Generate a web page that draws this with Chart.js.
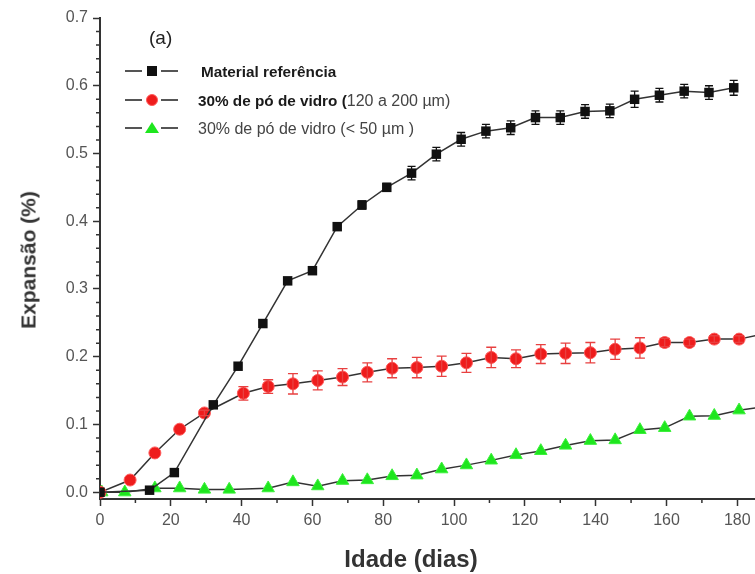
<!DOCTYPE html>
<html lang="pt">
<head>
    <meta charset="UTF-8">
    <title>Expansão (%) x Idade (dias)</title>
    <script src="https://cdn.jsdelivr.net/npm/chart.js"></script>
    <style>
        * {
            margin: 0;
            padding: 0;
            box-sizing: border-box;
        }

        body {
            background: #fff;
            font-family: 'Liberation Sans', Arial, sans-serif;
        }

        .wrap {
            position: relative;
            width: 755px;
            height: 574px;
            overflow: hidden;
        }

        .wrap canvas {
            position: absolute;
            left: 0;
            top: 0;
        }

        .txt {
            position: absolute;
            white-space: nowrap;
            line-height: 1;
        }

        .panel {
            left: 149px;
            top: 28px;
            font-size: 19px;
            color: #222;
        }

        .leg-row {
            position: absolute;
            left: 125px;
            height: 20px;
            width: 340px;
        }

        .leg-line {
            position: absolute;
            top: 9px;
            width: 17px;
            height: 2px;
            background: #555;
        }

        .leg-mark {
            position: absolute;
        }

        .leg-label {
            position: absolute;
            left: 73px;
            top: 2px;
            font-size: 16px;
            color: #444;
            white-space: nowrap;
        }

        .leg-label b {
            color: #1a1a1a;
            font-size: 15.3px;
        }

        .sq {
            left: 22px;
            top: 5px;
            width: 10px;
            height: 10px;
            background: #111;
        }

        .ci {
            left: 21px;
            top: 4px;
            width: 12px;
            height: 12px;
            border-radius: 50%;
            background: #ee1c1c;
            border: 1px solid #ff5a5a;
        }

        .tr {
            left: 20px;
            top: 4px;
            width: 0;
            height: 0;
            border-left: 7px solid transparent;
            border-right: 7px solid transparent;
            border-bottom: 11px solid #1ee61e;
        }

        .xtitle {
            left: 411px;
            top: 559px;
            transform: translate(-50%, -50%);
            font-size: 24px;
            font-weight: bold;
            color: #333;
        }

        .ytitle {
            left: 28px;
            top: 260px;
            transform: translate(-50%, -50%) rotate(-90deg);
            font-size: 21px;
            font-weight: bold;
            color: #333;
        }
    </style>
</head>
<body>
    <div class="wrap">
        <canvas id="expansao" width="755" height="574"></canvas>

        <div class="txt panel">(a)</div>

        <div class="leg-row" style="top: 61px;">
            <div class="leg-line" style="left: 0;"></div>
            <div class="leg-mark sq"></div>
            <div class="leg-line" style="left: 36px;"></div>
            <div class="leg-label" style="left: 76px;"><b>Material referência</b></div>
        </div>
        <div class="leg-row" style="top: 90px;">
            <div class="leg-line" style="left: 0;"></div>
            <div class="leg-mark ci"></div>
            <div class="leg-line" style="left: 36px;"></div>
            <div class="leg-label"><b>30% de pó de vidro (</b>120 a 200 µm)</div>
        </div>
        <div class="leg-row" style="top: 118px;">
            <div class="leg-line" style="left: 0;"></div>
            <div class="leg-mark tr"></div>
            <div class="leg-line" style="left: 36px;"></div>
            <div class="leg-label">30% de pó de vidro (&lt; 50 µm )</div>
        </div>

        <div class="txt xtitle">Idade (dias)</div>
        <div class="txt ytitle">Expansão (%)</div>
    </div>

    <script>
        // Material referência
        const refDias = [0, 14, 21, 32, 39, 46, 53, 60, 67, 74, 81, 88, 95, 102, 109, 116, 123, 130, 137, 144, 151, 158, 165, 172, 179];
        const refExp  = [0, 0.003, 0.029, 0.129, 0.186, 0.249, 0.312, 0.327, 0.392, 0.424, 0.450, 0.471, 0.499, 0.521, 0.533, 0.538, 0.553, 0.553, 0.562, 0.563, 0.580, 0.586, 0.592, 0.590, 0.597];
        const refErr  = [0, 0, 0, 0, 0, 0, 0, 0, 0, 0.006, 0.006, 0.010, 0.010, 0.010, 0.010, 0.010, 0.010, 0.010, 0.010, 0.010, 0.012, 0.010, 0.010, 0.010, 0.011];

        // 30% de pó de vidro (120 a 200 µm)
        const v120Dias = [0, 8.5, 15.5, 22.5, 29.5, 40.5, 47.5, 54.5, 61.5, 68.5, 75.5, 82.5, 89.5, 96.5, 103.5, 110.5, 117.5, 124.5, 131.5, 138.5, 145.5, 152.5, 159.5, 166.5, 173.5, 180.5, 187];
        const v120Exp  = [0, 0.018, 0.058, 0.093, 0.117, 0.146, 0.156, 0.160, 0.165, 0.170, 0.177, 0.183, 0.184, 0.186, 0.191, 0.199, 0.197, 0.204, 0.205, 0.206, 0.211, 0.213, 0.221, 0.221, 0.226, 0.226, 0.233];
        const v120Err  = [0, 0, 0, 0, 0.004, 0.010, 0.010, 0.015, 0.014, 0.0125, 0.014, 0.014, 0.015, 0.015, 0.014, 0.015, 0.013, 0.014, 0.015, 0.015, 0.015, 0.015, 0.006, 0.005, 0.005, 0.005, 0];

        // 30% de pó de vidro (< 50 µm)
        const v50Dias = [0.5, 7, 15.5, 22.5, 29.5, 36.5, 47.5, 54.5, 61.5, 68.5, 75.5, 82.5, 89.5, 96.5, 103.5, 110.5, 117.5, 124.5, 131.5, 138.5, 145.5, 152.5, 159.5, 166.5, 173.5, 180.5, 187];
        const v50Exp  = [0, 0, 0.006, 0.006, 0.004, 0.004, 0.006, 0.015, 0.009, 0.017, 0.018, 0.024, 0.025, 0.034, 0.040, 0.047, 0.055, 0.061, 0.069, 0.076, 0.077, 0.092, 0.095, 0.112, 0.113, 0.121, 0.126];

        // eixos
        const xTicks = [0, 20, 40, 60, 80, 100, 120, 140, 160, 180];
        const xMinor = [10, 30, 50, 70, 90, 110, 130, 150, 170];
        const yTicks = [0, 0.1, 0.2, 0.3, 0.4, 0.5, 0.6, 0.7];
        const yMinor = [0.02, 0.04, 0.06, 0.08, 0.12, 0.14, 0.16, 0.18, 0.22, 0.24, 0.26, 0.28,
                        0.32, 0.34, 0.36, 0.38, 0.42, 0.44, 0.46, 0.48, 0.52, 0.54, 0.56, 0.58,
                        0.62, 0.64, 0.66, 0.68];

        const pts = (xs, ys) => xs.map((x, i) => ({ x: x, y: ys[i] }));
        const fonte = "'Liberation Sans', Arial, sans-serif";

        // barras de erro
        const errorBars = {
            id: 'errorBars',
            afterDatasetsDraw(chart) {
                const ctx = chart.ctx;
                const xs = chart.scales.x, ys = chart.scales.y;
                const area = chart.chartArea;
                ctx.save();
                ctx.beginPath();
                ctx.rect(area.left, area.top - 2, area.right - area.left, area.bottom - area.top + 2);
                ctx.clip();
                chart.data.datasets.forEach(ds => {
                    if (!ds.errors) return;
                    ctx.strokeStyle = ds.errorColor;
                    ctx.lineWidth = 1.3;
                    ds.data.forEach((p, i) => {
                        const e = ds.errors[i];
                        if (!e) return;
                        const px = xs.getPixelForValue(p.x);
                        const y1 = ys.getPixelForValue(p.y + e);
                        const y2 = ys.getPixelForValue(p.y - e);
                        const w = ds.capWidth / 2;
                        ctx.beginPath();
                        ctx.moveTo(px, y1); ctx.lineTo(px, y2);
                        ctx.moveTo(px - w, y1); ctx.lineTo(px + w, y1);
                        ctx.moveTo(px - w, y2); ctx.lineTo(px + w, y2);
                        ctx.stroke();
                    });
                });
                ctx.restore();
            }
        };

        // tiques secundários
        const minorTicks = {
            id: 'minorTicks',
            afterDraw(chart) {
                const ctx = chart.ctx;
                const xs = chart.scales.x, ys = chart.scales.y;
                const area = chart.chartArea;
                ctx.save();
                ctx.strokeStyle = '#333';
                ctx.lineWidth = 1.5;
                ctx.beginPath();
                xMinor.forEach(v => {
                    const px = xs.getPixelForValue(v);
                    ctx.moveTo(px, area.bottom);
                    ctx.lineTo(px, area.bottom + 4);
                });
                yMinor.forEach(v => {
                    const py = ys.getPixelForValue(v);
                    ctx.moveTo(area.left, py);
                    ctx.lineTo(area.left - 4, py);
                });
                ctx.stroke();
                ctx.restore();
            }
        };

        new Chart(document.getElementById('expansao'), {
            type: 'line',
            data: {
                datasets: [{
                    label: 'Material referência',
                    data: pts(refDias, refExp),
                    errors: refErr,
                    errorColor: '#111',
                    capWidth: 8,
                    borderColor: '#333',
                    borderWidth: 1.5,
                    pointStyle: 'rect',
                    pointRadius: 6.7,
                    pointBackgroundColor: '#111',
                    pointBorderColor: '#111',
                    pointBorderWidth: 0
                },
                {
                    label: '30% de pó de vidro (120 a 200 µm)',
                    data: pts(v120Dias, v120Exp),
                    errors: v120Err,
                    errorColor: '#e84040',
                    capWidth: 10,
                    borderColor: '#333',
                    borderWidth: 1.5,
                    pointStyle: 'circle',
                    pointRadius: 6,
                    pointBackgroundColor: '#ee1c1c',
                    pointBorderColor: '#ff5a5a',
                    pointBorderWidth: 1
                },
                {
                    label: '30% de pó de vidro (< 50 µm )',
                    data: pts(v50Dias, v50Exp),
                    borderColor: '#333',
                    borderWidth: 1.5,
                    pointStyle: 'triangle',
                    pointRadius: 7.2,
                    pointBackgroundColor: '#1ee61e',
                    pointBorderColor: '#3cf03c',
                    pointBorderWidth: 1
                }]
            },
            options: {
                responsive: false,
                animation: false,
                layout: {
                    autoPadding: false,
                    padding: { top: 18, right: 0, left: 0, bottom: 0 }
                },
                plugins: {
                    legend: { display: false },
                    tooltip: { enabled: false }
                },
                scales: {
                    x: {
                        type: 'linear',
                        min: 0,
                        max: 185,
                        afterBuildTicks: s => { s.ticks = xTicks.map(v => ({ value: v })); },
                        afterFit: s => {
                            s.height = 75;
                            s.paddingLeft = 0;
                            s.paddingRight = 0;
                        },
                        grid: {
                            drawOnChartArea: false,
                            tickLength: 7,
                            tickWidth: 1.5,
                            tickColor: '#333'
                        },
                        border: { color: '#333', width: 2 },
                        ticks: {
                            autoSkip: false,
                            maxRotation: 0,
                            padding: 5,
                            color: '#555',
                            font: { family: fonte, size: 16 }
                        }
                    },
                    y: {
                        min: -0.01,
                        max: 0.7,
                        afterBuildTicks: s => { s.ticks = yTicks.map(v => ({ value: v })); },
                        afterFit: s => { s.width = 100; },
                        grid: {
                            drawOnChartArea: false,
                            tickLength: 7,
                            tickWidth: 1.5,
                            tickColor: '#333'
                        },
                        border: { color: '#333', width: 2 },
                        ticks: {
                            padding: 5,
                            color: '#555',
                            font: { family: fonte, size: 16 },
                            callback: v => v.toFixed(1)
                        }
                    }
                }
            },
            plugins: [errorBars, minorTicks]
        });
    </script>
</body>
</html>
